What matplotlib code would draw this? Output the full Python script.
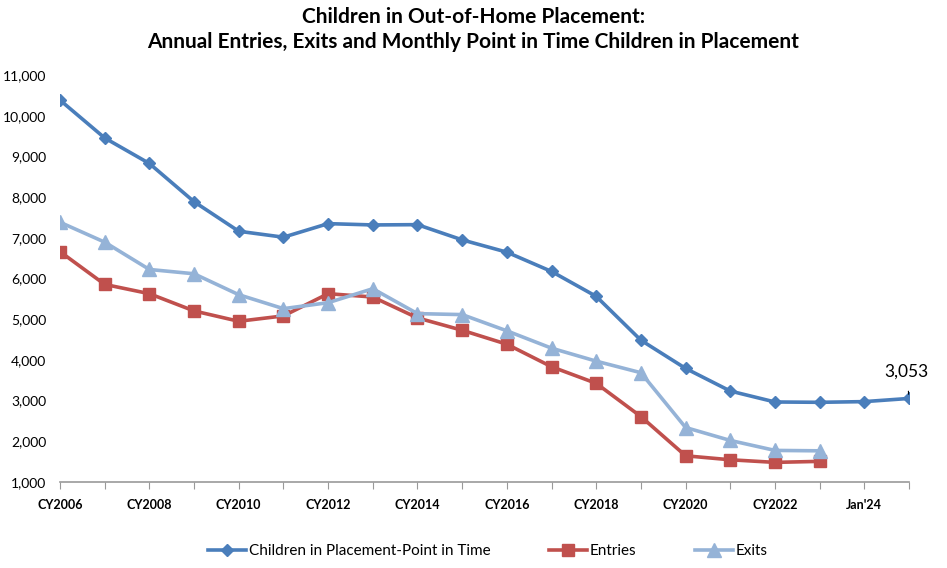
import numpy as np
import matplotlib.pyplot as plt

plt.rcParams['font.family'] = ['Lato', 'DejaVu Sans']

categories = ['CY2006', 'CY2007', 'CY2008', 'CY2009', 'CY2010', 'CY2011', 'CY2012',
              'CY2013', 'CY2014', 'CY2015', 'CY2016', 'CY2017', 'CY2018', 'CY2019',
              'CY2020', 'CY2021', 'CY2022', 'CY2023', "Jan'24", "Jun'24"]

point_in_time = [10383, 9453, 8826, 7887, 7161, 7015, 7348, 7316, 7323, 6949,
                 6647, 6173, 5561, 4484, 3791, 3235, 2966, 2958, 2975, 3053]
entries = [6660, 5855, 5627, 5203, 4949, 5081, 5627, 5545, 5032, 4728,
           4385, 3832, 3424, 2608, 1644, 1546, 1482, 1507, np.nan, np.nan]
exits = [7382, 6893, 6222, 6116, 5602, 5259, 5406, 5749, 5137, 5113,
         4714, 4288, 3969, 3685, 2339, 2021, 1776, 1766, np.nan, np.nan]

x = np.arange(len(categories))

fig = plt.figure(figsize=(9.47, 5.68), dpi=100)
ax = fig.add_axes([60/947, 1-482/568, (909-60)/947, (482-75)/568])

ax.plot(x, point_in_time, color='#4A7EBB', lw=2.6, marker='D', ms=6,
        label='Children in Placement-Point in Time')
ax.plot(x, entries, color='#C0504D', lw=2.6, marker='s', ms=9, label='Entries')
ax.plot(x, exits, color='#95B3D7', lw=2.6, marker='^', ms=10, label='Exits')

ax.annotate('3,053', xy=(x[-1], point_in_time[-1]), xytext=(x[-1] - 0.05, 3700),
            ha='center', va='center', fontsize=12.5,
            arrowprops=dict(arrowstyle='-', color='black', lw=0.8, shrinkA=6, shrinkB=3))

ax.set_xlim(0, len(categories) - 1)
ax.set_ylim(1000, 11000)
ax.set_yticks(np.arange(1000, 11001, 1000))
ax.set_yticklabels([f'{v:,}' for v in range(1000, 11001, 1000)], fontsize=10)
ax.set_xticks(x)
ax.set_xticklabels([c if i % 2 == 0 else '' for i, c in enumerate(categories)],
                   fontsize=9, fontweight='bold')
ax.tick_params(axis='y', length=0, pad=10)
ax.tick_params(axis='x', length=5, color='#999999', pad=7)

for s in ['top', 'right', 'left']:
    ax.spines[s].set_visible(False)
ax.spines['bottom'].set_color('#999999')
ax.spines['bottom'].set_linewidth(1.2)

fig.text(0.5, 1-17/568, 'Children in Out-of-Home Placement:', ha='center', va='center',
         fontsize=15, fontweight='bold')
fig.text(0.5, 1-42/568, 'Annual Entries, Exits and Monthly Point in Time Children in Placement',
         ha='center', va='center', fontsize=15, fontweight='bold')

fig.legend(loc='center', bbox_to_anchor=(0.515, 1-551/568), ncol=3, frameon=False,
           fontsize=11, handlelength=2.5, columnspacing=3.8, handletextpad=0.2)

fig.savefig('out.png', dpi=100)
